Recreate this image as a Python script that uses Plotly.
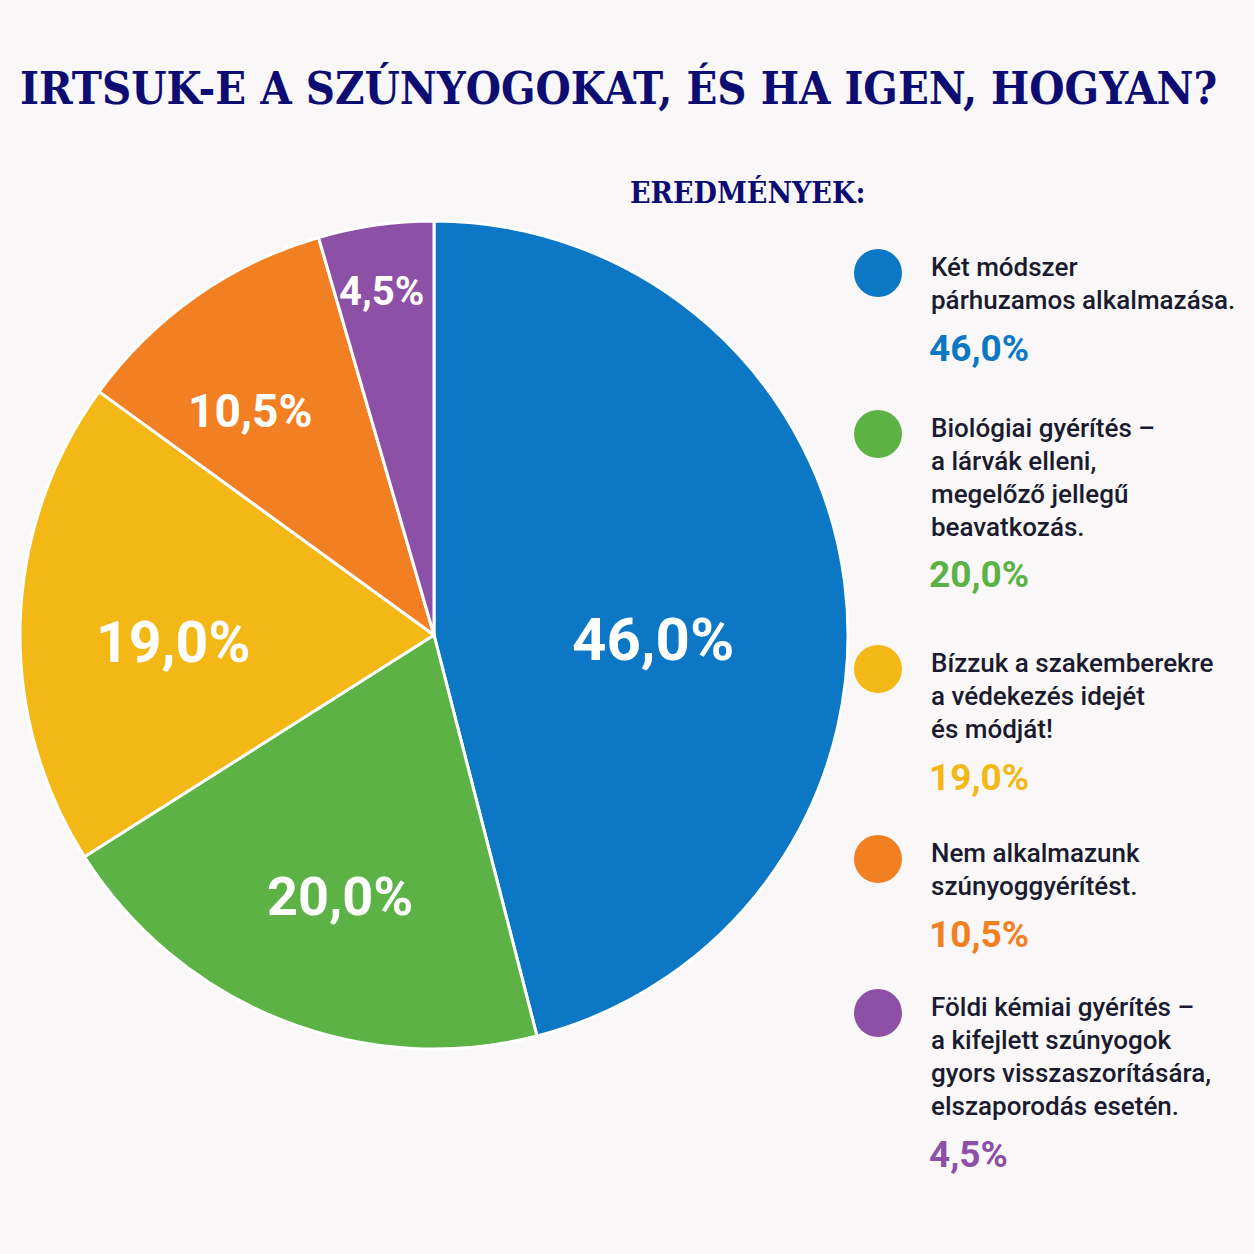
import math
import plotly.graph_objects as go

# Adatok
categories = [
    "Két módszer<br>párhuzamos alkalmazása.",
    "Biológiai gyérítés –<br>a lárvák elleni,<br>megelőző jellegű<br>beavatkozás.",
    "Bízzuk a szakemberekre<br>a védekezés idejét<br>és módját!",
    "Nem alkalmazunk<br>szúnyoggyérítést.",
    "Földi kémiai gyérítés –<br>a kifejlett szúnyogok<br>gyors visszaszorítására,<br>elszaporodás esetén.",
]
values = [46.0, 20.0, 19.0, 10.5, 4.5]
colors = ["#0b77c5", "#5db246", "#f4b816", "#f28022", "#8c50a6"]

labels_hu = [f"{v:.1f}%".replace(".", ",") for v in values]

W = H = 1254
navy = "#0c0c72"

fig = go.Figure()

# Kördiagram
cx, cy, r = 434, 635, 414
fig.add_trace(go.Pie(
    values=values,
    labels=[c.replace("<br>", " ") for c in categories],
    text=labels_hu,
    textinfo="none",
    marker=dict(colors=colors, line=dict(color="white", width=3)),
    sort=False,
    direction="clockwise",
    rotation=0,
    hoverinfo="label+text",
    domain=dict(x=[(cx - r) / W, (cx + r) / W], y=[1 - (cy + r) / H, 1 - (cy - r) / H]),
    showlegend=False,
))

annotations = []
shapes = []

# Százalékos címkék a szeleteken (a szelet felezőszögéből számolva)
label_rfrac = [0.53, 0.67, 0.63, 0.70, 0.84]
label_dang = [8.5, -1.9, -3.5, -4.2, -0.5]
label_size = [60, 54, 57, 46, 40]
total = sum(values)
cum = 0.0
for i, v in enumerate(values):
    mid = (cum + v / 2) / total * 360 + label_dang[i]
    cum += v
    rr = r * label_rfrac[i]
    px = cx + rr * math.sin(math.radians(mid))
    py = cy - rr * math.cos(math.radians(mid))
    annotations.append(dict(
        x=px / W, y=1 - py / H, xref="paper", yref="paper",
        text=f"<b>{labels_hu[i]}</b>", showarrow=False,
        xanchor="center", yanchor="middle",
        font=dict(family="Roboto", size=label_size[i], color="white"),
    ))

# Egyedi jelmagyarázat
legend_top = [267, 428, 663, 853, 1007]
line_h = 33
for i, (cat, val, col) in enumerate(zip(categories, values, colors)):
    lines = cat.split("<br>")
    y0 = legend_top[i]
    for j, ln in enumerate(lines):
        annotations.append(dict(
            x=929 / W, y=1 - (y0 + j * line_h) / H, xref="paper", yref="paper",
            text=ln, showarrow=False, xanchor="left", yanchor="middle",
            font=dict(family="Roboto", size=26, color="#1b1b30", weight=500),
        ))
    annotations.append(dict(
        x=927 / W, y=1 - (y0 + (len(lines) - 1) * line_h + 48) / H, xref="paper", yref="paper",
        text=f"<b>{labels_hu[i]}</b>", showarrow=False, xanchor="left", yanchor="middle",
        font=dict(family="Roboto", size=37, color=col),
    ))
    mx, my, mr = 878, y0 + 6, 24
    shapes.append(dict(
        type="circle", xref="paper", yref="paper",
        x0=(mx - mr) / W, x1=(mx + mr) / W, y0=1 - (my + mr) / H, y1=1 - (my - mr) / H,
        fillcolor=col, line=dict(width=0),
    ))

annotations.append(dict(
    x=618 / W, y=1 - 88 / H, xref="paper", yref="paper",
    text="<b>IRTSUK-E A SZÚNYOGOKAT, ÉS HA IGEN, HOGYAN?</b>", showarrow=False,
    xanchor="center", yanchor="middle",
    font=dict(family="DejaVu Serif Condensed", size=45, color=navy),
))
annotations.append(dict(
    x=628 / W, y=1 - 193 / H, xref="paper", yref="paper",
    text="<b>EREDMÉNYEK:</b>", showarrow=False,
    xanchor="left", yanchor="middle",
    font=dict(family="DejaVu Serif Condensed", size=30, color=navy),
))

fig.update_layout(
    width=W, height=H,
    margin=dict(l=0, r=0, t=0, b=0),
    paper_bgcolor="#f9f7f7",
    plot_bgcolor="#f9f7f7",
    annotations=annotations,
    shapes=shapes,
)

fig.write_html("out.html", config={"displayModeBar": False},
               post_script="document.body.style.margin='0';")
